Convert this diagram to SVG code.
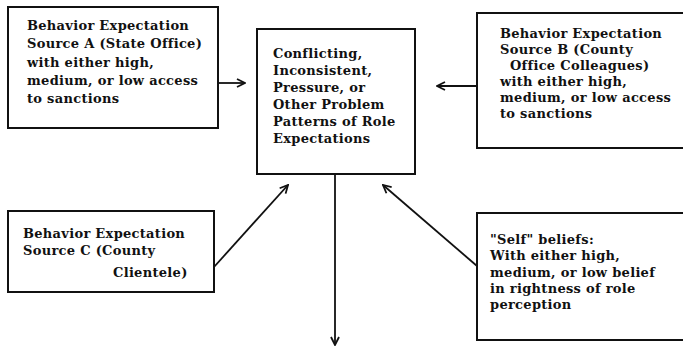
<svg xmlns="http://www.w3.org/2000/svg" width="683" height="348" viewBox="0 0 683 348">
<style>
.box{fill:#fff;stroke:#111;stroke-width:2}
.t{font-family:"DejaVu Serif","Liberation Serif",serif;font-size:13px;font-weight:bold;letter-spacing:0.3px;fill:#111}
.c{fill:none;stroke:#111;stroke-width:1.8}
</style>
<defs>
<marker id="ah" viewBox="0 0 10 10" refX="9" refY="5" markerWidth="10" markerHeight="10" markerUnits="userSpaceOnUse" orient="auto">
<path d="M1,1 L9,5 L1,9" fill="none" stroke="#111" stroke-width="1.8"/>
</marker>
</defs>
<rect width="683" height="348" fill="#fff"/>
<g id="sourceA">
<rect class="box" x="8" y="7" width="210" height="121"/>
<text class="t"><tspan x="27" y="30">Behavior Expectation</tspan><tspan x="27" y="48">Source A (State Office)</tspan><tspan x="27" y="67">with either high,</tspan><tspan x="27" y="85">medium, or low access</tspan><tspan x="27" y="103">to sanctions</tspan></text>
</g>
<g id="center">
<rect class="box" x="257" y="29" width="158" height="145"/>
<text class="t"><tspan x="273" y="58">Conflicting,</tspan><tspan x="273" y="75">Inconsistent,</tspan><tspan x="273" y="92">Pressure, or</tspan><tspan x="273" y="109">Other Problem</tspan><tspan x="273" y="126">Patterns of Role</tspan><tspan x="273" y="143">Expectations</tspan></text>
</g>
<g id="sourceB">
<rect class="box" x="477" y="13" width="215" height="135"/>
<text class="t"><tspan x="500" y="38">Behavior Expectation</tspan><tspan x="500" y="54">Source B (County</tspan><tspan x="510" y="70">Office Colleagues)</tspan><tspan x="500" y="86">with either high,</tspan><tspan x="500" y="102">medium, or low access</tspan><tspan x="500" y="118">to sanctions</tspan></text>
</g>
<g id="sourceC">
<rect class="box" x="8" y="211" width="206" height="81"/>
<text class="t"><tspan x="23" y="238">Behavior Expectation</tspan><tspan x="23" y="255">Source C (County</tspan><tspan x="113" y="277">Clientele)</tspan></text>
</g>
<g id="self">
<rect class="box" x="477" y="213" width="215" height="127"/>
<text class="t"><tspan x="490" y="244">"Self" beliefs:</tspan><tspan x="490" y="260">With either high,</tspan><tspan x="490" y="277">medium, or low belief</tspan><tspan x="490" y="293">in rightness of role</tspan><tspan x="490" y="309">perception</tspan></text>
</g>
<g id="connectors">
<line class="c" x1="218" y1="83" x2="245" y2="83" marker-end="url(#ah)"/>
<line class="c" x1="477" y1="86" x2="437" y2="86" marker-end="url(#ah)"/>
<line class="c" x1="214" y1="267" x2="288" y2="185" marker-end="url(#ah)"/>
<line class="c" x1="477" y1="266" x2="383" y2="185" marker-end="url(#ah)"/>
<line class="c" x1="335" y1="174" x2="335" y2="345" marker-end="url(#ah)"/>
</g>
</svg>
